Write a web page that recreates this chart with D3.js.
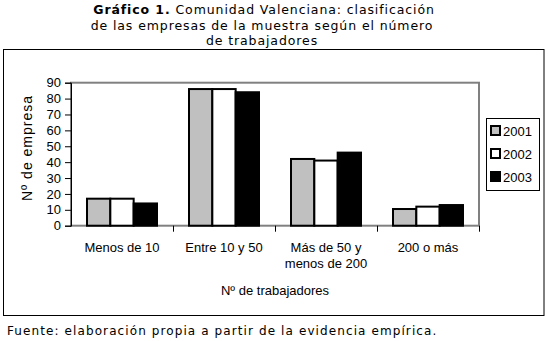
<!DOCTYPE html>
<html>
<head>
<meta charset="utf-8">
<script src="https://cdn.jsdelivr.net/npm/d3@7"></script>
<style>
  body { margin: 0; background: #fff; }
  svg { display: block; }
</style>
</head>
<body>
<div id="chart"></div>
<script>
const categories = [["Menos de 10"], ["Entre 10 y 50"], ["Más de 50 y", "menos de 200"], ["200 o más"]];
const years = ["2001", "2002", "2003"];
const values2001 = [17, 86, 42, 10.5];
const values2002 = [17, 86, 41, 12];
const values2003 = [14, 84, 46, 13];
const yTicks = [0, 10, 20, 30, 40, 50, 60, 70, 80, 90];
const titleLines = ["de las empresas de la muestra según el número", "de trabajadores"];

const width = 548, height = 341;
const plot = {left: 71, right: 479, top: 82.7, bottom: 225.7};
const fills = ["#c0c0c0", "#ffffff", "#000000"];
const axisFont = "'Liberation Sans', Arial, sans-serif";
const titleFont = "'DejaVu Sans', Verdana, sans-serif";

const svg = d3.select("#chart").append("svg")
    .attr("width", width)
    .attr("height", height);

// title
const title = svg.append("text")
    .attr("text-anchor", "middle")
    .attr("font-family", titleFont)
    .attr("font-size", 12.5)
    .attr("letter-spacing", 0.9);
title.append("tspan").attr("x", 264).attr("y", 14)
    .attr("font-weight", "bold").text("Gráfico 1.");
title.append("tspan").text(" Comunidad Valenciana: clasificación");
titleLines.forEach((t, i) => {
    svg.append("text")
        .attr("x", 262).attr("y", 30 + i * 14.5)
        .attr("text-anchor", "middle")
        .attr("font-family", titleFont)
        .attr("font-size", 12.5)
        .attr("letter-spacing", 0.9)
        .text(t);
});

// outer frame
svg.append("rect")
    .attr("x", 3.5).attr("y", 49.5)
    .attr("width", 540.5).attr("height", 266)
    .attr("fill", "none").attr("stroke", "#000");

const x = d3.scaleBand().domain(d3.range(categories.length)).range([plot.left, plot.right]);
const xInner = d3.scaleBand().domain(years).range([16, x.bandwidth() - 16]);
const y = d3.scaleLinear().domain([0, 90]).range([plot.bottom, plot.top]);

// plot area border (gray)
svg.append("rect")
    .attr("x", plot.left).attr("y", plot.top)
    .attr("width", plot.right - plot.left).attr("height", plot.bottom - plot.top)
    .attr("fill", "none").attr("stroke", "#808080").attr("stroke-width", 2);

// bars
const series = [values2001, values2002, values2003];
series.forEach((vals, s) => {
    svg.append("g").selectAll("rect")
        .data(vals)
        .enter()
        .append("rect")
        .attr("x", (d, i) => x(i) + xInner(years[s]))
        .attr("y", d => y(d))
        .attr("width", xInner.bandwidth())
        .attr("height", d => y(0) - y(d))
        .attr("fill", fills[s])
        .attr("stroke", "#000")
        .attr("stroke-width", 2);
});

// y axis
const yAxis = svg.append("g")
    .attr("transform", `translate(${plot.left},0)`)
    .call(d3.axisLeft(y).tickValues(yTicks).tickSize(6).tickPadding(4));
yAxis.select(".domain").attr("stroke", "#000");
yAxis.selectAll("text").attr("font-family", axisFont).attr("font-size", 13).attr("fill", "#000");

// x axis ticks
const xAxis = svg.append("g")
    .attr("transform", `translate(0,${plot.bottom})`)
    .call(d3.axisBottom(d3.scaleLinear().domain([0, 4]).range([plot.left, plot.right]))
        .tickValues([1, 2, 3, 4]).tickSize(6).tickFormat(""));
xAxis.select(".domain").remove();

// category labels
categories.forEach((lines, i) => {
    lines.forEach((t, j) => {
        svg.append("text")
            .attr("x", x(i) + x.bandwidth() / 2)
            .attr("y", 251.5 + j * 16.5)
            .attr("text-anchor", "middle")
            .attr("font-family", axisFont)
            .attr("font-size", 13)
            .text(t);
    });
});

// axis titles
svg.append("text")
    .attr("x", (plot.left + plot.right) / 2).attr("y", 294.5)
    .attr("text-anchor", "middle")
    .attr("font-family", axisFont).attr("font-size", 13)
    .text("Nº de trabajadores");
svg.append("text")
    .attr("transform", "translate(32,148) rotate(-90)")
    .attr("text-anchor", "middle")
    .attr("font-family", axisFont).attr("font-size", 14)
    .attr("letter-spacing", 1)
    .text("Nº de empresa");

// legend
const legend = svg.append("g");
legend.append("rect")
    .attr("x", 486.5).attr("y", 118.5)
    .attr("width", 53).attr("height", 72)
    .attr("fill", "#fff").attr("stroke", "#000");
years.forEach((yr, i) => {
    const ly = 131 + i * 23;
    legend.append("rect")
        .attr("x", 491).attr("y", ly - 5)
        .attr("width", 9).attr("height", 9)
        .attr("fill", fills[i]).attr("stroke", "#000").attr("stroke-width", 2);
    legend.append("text")
        .attr("x", 503).attr("y", ly + 5)
        .attr("font-family", axisFont).attr("font-size", 13)
        .text(yr);
});

// source
svg.append("text")
    .attr("x", 7).attr("y", 334.5)
    .attr("font-family", titleFont).attr("font-size", 12)
    .attr("letter-spacing", 1.1)
    .text("Fuente: elaboración propia a partir de la evidencia empírica.");
</script>
</body>
</html>
